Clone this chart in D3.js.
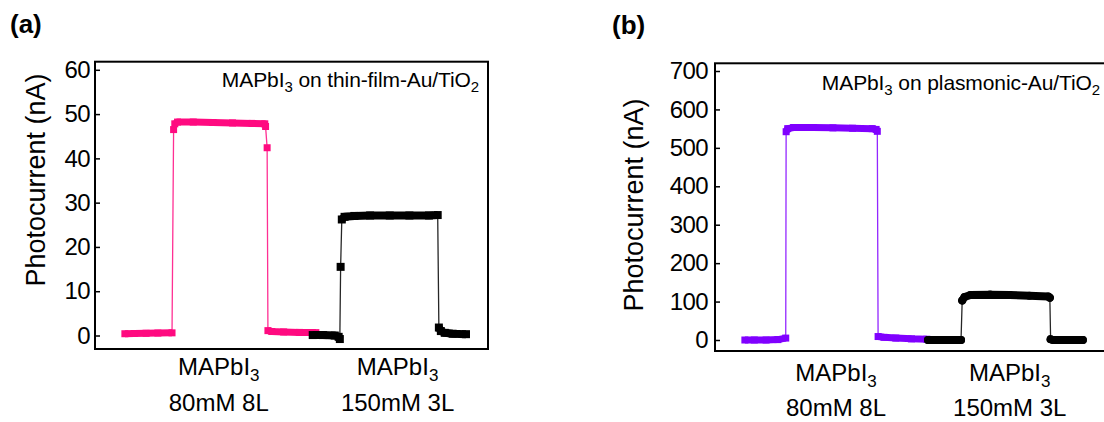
<!DOCTYPE html>
<html>
<head>
<meta charset="utf-8">
<script src="https://cdn.jsdelivr.net/npm/d3@7"></script>
<style>
  body { margin: 0; background: #fff; }
  svg { font-family: "Liberation Sans", Arial, sans-serif; }
</style>
</head>
<body>
<svg id="chart" width="1104" height="422"></svg>
<script>
(function () {
  'use strict';

  // ---- data (time in arbitrary units 0-100, current in nA) ----
  // each series is a list of runs; a run of dense points is drawn as a thick band
  var thinFilm80 = [
    [[7.6, 0.4], [10, 0.45], [13, 0.5], [16, 0.55], [19.6, 0.6]],
    [[20, 46.5]],
    [[20.3, 47.8], [21, 48.2], [25, 48.2], [30, 48.1], [35, 48.0], [40, 47.9], [43.2, 47.8], [43.4, 47.2]],
    [[43.8, 42.4]],
    [[44, 1.1], [45, 0.9], [48, 0.8], [52, 0.7], [56.2, 0.65]]
  ];
  var thinFilm150 = [
    [[55.4, 0.1], [58, 0.1], [61, 0.0], [62, -0.3], [62.3, -0.8]],
    [[62.5, 15.5]],
    [[62.8, 26.2], [63.5, 26.8], [66, 27.0], [70, 27.1], [75, 27.1], [80, 27.1], [85, 27.1], [87.2, 27.2]],
    [[87.5, 1.8], [88, 1.0], [89, 0.6], [91, 0.4], [94.4, 0.3]]
  ];
  var plasmonic80 = [
    [[7.6, 0], [10, 0], [13, 0], [16, 1], [18, 5]],
    [[18.1, 542], [18.5, 550], [20, 553], [25, 553], [30, 552], [35, 551], [40, 550], [41.0, 548], [41.3, 543]],
    [[41.5, 9], [43, 7], [46, 5], [50, 3], [53.9, 2]]
  ];
  var plasmonic150 = [
    [[54.2, 0], [57, 0], [60, 0], [62.6, 0]],
    [[62.9, 103], [63.5, 112], [65, 117], [70, 118], [75, 117], [80, 115], [84.8, 113], [85.2, 110]],
    [[85.4, 2], [86, 0], [89, 0], [93.6, 0]]
  ];

  var ticksA = [0, 10, 20, 30, 40, 50, 60];
  var ticksB = [0, 100, 200, 300, 400, 500, 600, 700];
  var categories = ['80mM 8L', '150mM 3L'];
  var catTimesA = [31.5, 77];
  var catTimesB = [30.8, 75];

  var svg = d3.select('#chart');

  var panels = [
    {
      tag: '(a)', tagX: 10, tagY: 33,
      left: 95, right: 488, top: 61.7, bottom: 349,
      yDomain: [0, 60], yRange: [335.5, 69.8], ticks: ticksA, pad: 5,
      note: ['MAPbI', '3', ' on thin-film-Au/TiO', '2'], noteX: 479, noteY: 87,
      labelX: 45, labelY: 180,
      catTimes: catTimesA, catY1: 375, catY2: 411,
      series: [
        { runs: thinFilm80, color: '#ff0a80', shape: 'square', w: 7 },
        { runs: thinFilm150, color: '#000', shape: 'square', w: 8 }
      ]
    },
    {
      tag: '(b)', tagX: 612, tagY: 34,
      left: 715, right: 1108, top: 63.3, bottom: 351,
      yDomain: [0, 700], yRange: [340, 71], ticks: ticksB, pad: 7,
      note: ['MAPbI', '3', ' on plasmonic-Au/TiO', '2'], noteX: 1100, noteY: 90,
      labelX: 643, labelY: 205,
      catTimes: catTimesB, catY1: 381, catY2: 416,
      series: [
        { runs: plasmonic80, color: '#8000ff', shape: 'square', w: 7 },
        { runs: plasmonic150, color: '#000', shape: 'circle', w: 8 }
      ]
    }
  ];

  function subText(sel, parts, subSize) {
    parts.forEach(function (p, i) {
      var t = sel.append('tspan').text(p);
      if (i % 2 === 1) {
        t.attr('font-size', subSize).attr('dy', subSize * 0.35);
      } else if (i > 0) {
        t.attr('dy', -subSize * 0.35);
      }
    });
  }

  panels.forEach(function (p) {
    var x = d3.scaleLinear().domain([0, 100]).range([p.left, p.right]);
    var y = d3.scaleLinear().domain(p.yDomain).range(p.yRange);
    var g = svg.append('g');

    // panel tag
    g.append('text').attr('x', p.tagX).attr('y', p.tagY)
      .attr('font-size', 26).attr('font-weight', 'bold').text(p.tag);

    // data
    var line = d3.line().x(function (d) { return x(d[0]); }).y(function (d) { return y(d[1]); });
    p.series.forEach(function (s) {
      var all = [].concat.apply([], s.runs);
      g.append('path').attr('d', line(all)).attr('fill', 'none')
        .attr('stroke', s.color).attr('stroke-width', 1.3).attr('opacity', 0.85);
      s.runs.forEach(function (run) {
        if (run.length > 1) {
          g.append('path').attr('d', line(run)).attr('fill', 'none')
            .attr('stroke', s.color).attr('stroke-width', s.w)
            .attr('stroke-linejoin', 'round')
            .attr('stroke-linecap', s.shape === 'circle' ? 'round' : 'butt');
        }
      });
      var sym = d3.symbol().type(s.shape === 'circle' ? d3.symbolCircle : d3.symbolSquare)
        .size(s.w * s.w * (s.shape === 'circle' ? 0.8 : 1));
      g.selectAll(null).data(all).enter().append('path')
        .attr('d', sym)
        .attr('transform', function (d) { return 'translate(' + x(d[0]) + ',' + y(d[1]) + ')'; })
        .attr('fill', s.color);
    });

    // frame
    g.append('rect').attr('x', p.left).attr('y', p.top)
      .attr('width', p.right - p.left).attr('height', p.bottom - p.top)
      .attr('fill', 'none').attr('stroke', '#000').attr('stroke-width', 2);

    // y axis
    var ax = g.append('g').attr('transform', 'translate(' + p.left + ',0)')
      .call(d3.axisLeft(y).tickValues(p.ticks).tickSizeInner(-5).tickSizeOuter(0).tickPadding(p.pad));
    ax.select('.domain').remove();
    ax.selectAll('.tick line').attr('stroke-width', 1.5);
    ax.selectAll('.tick text').attr('font-size', 24).attr('fill', '#000')
      .attr('letter-spacing', -0.6)
      .attr('font-family', '"Liberation Sans", Arial, sans-serif');

    // y label
    g.append('text')
      .attr('transform', 'translate(' + p.labelX + ',' + p.labelY + ') rotate(-90)')
      .attr('text-anchor', 'middle').attr('font-size', 27)
      .text('Photocurrent (nA)');

    // annotation
    var note = g.append('text').attr('x', p.noteX).attr('y', p.noteY)
      .attr('text-anchor', 'end').attr('font-size', 21).attr('letter-spacing', -0.1);
    subText(note, p.note, 15);

    // category labels
    categories.forEach(function (c, i) {
      var cx = x(p.catTimes[i]);
      var t1 = g.append('text').attr('x', cx).attr('y', p.catY1)
        .attr('text-anchor', 'middle').attr('font-size', 24);
      subText(t1, ['MAPbI', '3'], 17);
      g.append('text').attr('x', cx).attr('y', p.catY2)
        .attr('text-anchor', 'middle').attr('font-size', 24).text(c);
    });
  });
})();
</script>
</body>
</html>
